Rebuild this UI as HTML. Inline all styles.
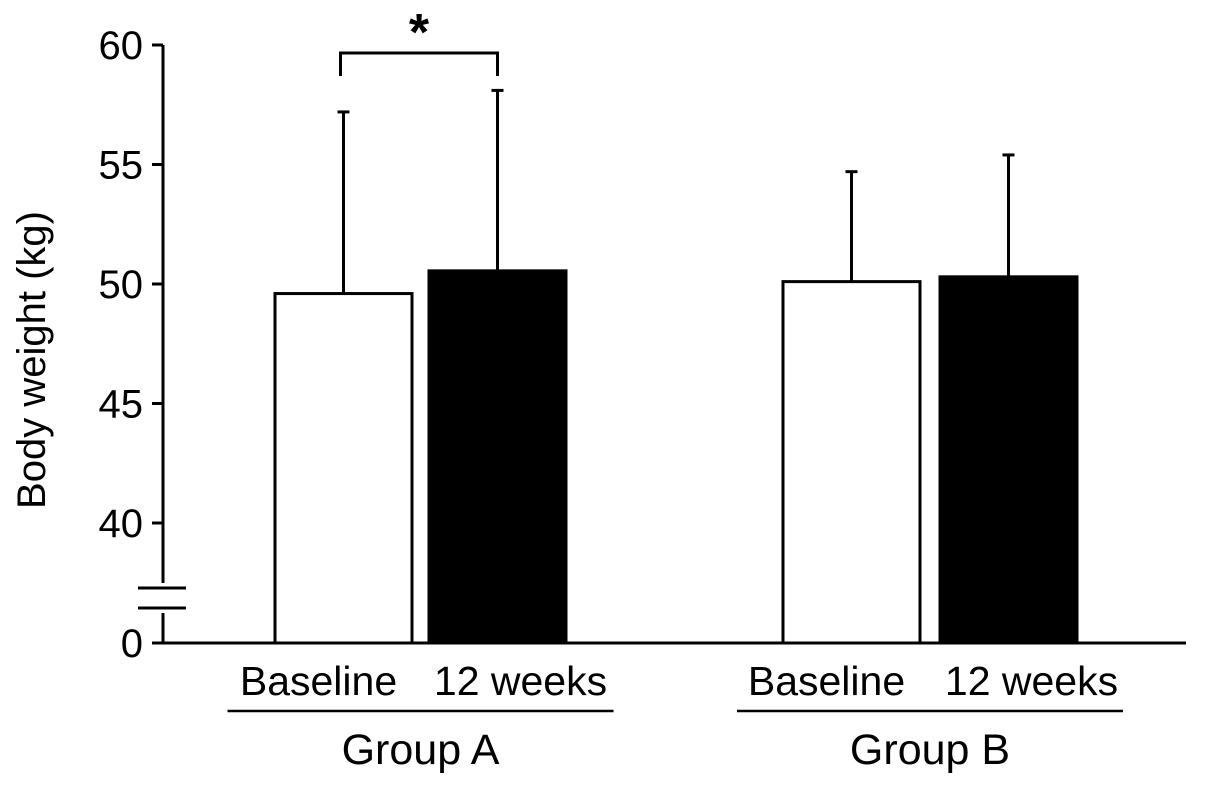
<!DOCTYPE html>
<html><head><meta charset="utf-8"><style>
body{margin:0;background:#fff}
svg{display:block;font-family:"Liberation Sans",Arial,sans-serif}
</style></head><body>
<svg id="chart" width="1205" height="790" viewBox="0 0 1205 790"></svg>
<script>
const categories=["Group A Baseline","Group A 12 weeks","Group B Baseline","Group B 12 weeks"];
const means=[49.6,50.55,50.1,50.3];
const errs=[7.6,7.55,4.6,5.1];
const fills=["#fff","#000","#fff","#000"];
const yTicks=[40,45,50,55,60];
const groups=["Group A","Group B"];
const subLabels=["Baseline","12 weeks"];
const NS="http://www.w3.org/2000/svg";
const svg=document.getElementById("chart");
function y(v){return 284-(v-50)*23.9;}
const barX=[275,429,783,940], barW=137, baseY=643;
function mk(t,a,txt){const e=document.createElementNS(NS,t);for(const k in a)e.setAttribute(k,a[k]);if(txt!==undefined)e.textContent=txt;svg.appendChild(e);return e;}
let e=mk("line",{x1:163,y1:y(60),x2:163,y2:583,stroke:"#000","stroke-width":3});


e=mk("line",{x1:163,y1:613,x2:163,y2:baseY,stroke:"#000","stroke-width":3});


e=mk("line",{x1:163,y1:baseY,x2:1186,y2:baseY,stroke:"#000","stroke-width":3});


[588,608].forEach(yy=>{const b=mk("line",{x1:138,y1:yy,x2:186,y2:yy,stroke:"#000","stroke-width":3});

});
yTicks.forEach(t=>{const l=mk("line",{x1:152,y1:y(t),x2:163,y2:y(t),stroke:"#000","stroke-width":3});


const tx=mk("text",{x:143,y:y(t)+14,"text-anchor":"end","font-size":40},String(t));

});
let z=mk("line",{x1:152,y1:baseY,x2:163,y2:baseY,stroke:"#000","stroke-width":3});


z=mk("text",{x:143,y:baseY+14,"text-anchor":"end","font-size":40},"0");


e=mk("text",{x:0,y:0,"font-size":40,"text-anchor":"middle",transform:"translate(45,360) rotate(-90)"},"Body weight (kg)");


means.forEach((m,i)=>{const cx=barX[i]+barW/2;
const ln=mk("line",{x1:cx,y1:y(m),x2:cx,y2:y(m+errs[i]),stroke:"#000","stroke-width":3});


const cp=mk("line",{x1:cx-6,y1:y(m+errs[i]),x2:cx+6,y2:y(m+errs[i]),stroke:"#000","stroke-width":3});


const r=mk("rect",{x:barX[i],y:y(m),width:barW,height:baseY-y(m),fill:fills[i],stroke:"#000","stroke-width":3});

});
groups.forEach((g,gi)=>{const x0=barX[gi*2], x1=barX[gi*2+1]+barW, cx=(x0+x1)/2;
const t1=mk("text",{x:x0+barW/2-25,y:695,"text-anchor":"middle","font-size":41},subLabels[0]);


const t2=mk("text",{x:x1-barW/2+23,y:695,"text-anchor":"middle","font-size":41},subLabels[1]);


const u=mk("line",{x1:cx-193,y1:711,x2:cx+193,y2:711,stroke:"#000","stroke-width":2.5});


const gt=mk("text",{x:cx,y:764,"text-anchor":"middle","font-size":43},g);

});
const ax=barX[0]+barW/2-3, bx=barX[1]+barW/2;
e=mk("polyline",{points:`${ax},76 ${ax},53 ${bx},53 ${bx},76`,fill:"none",stroke:"#000","stroke-width":3});


e=mk("text",{x:(ax+bx)/2,y:50,"text-anchor":"middle","font-size":52,"font-weight":"bold"},"*");


</script>
</body></html>
